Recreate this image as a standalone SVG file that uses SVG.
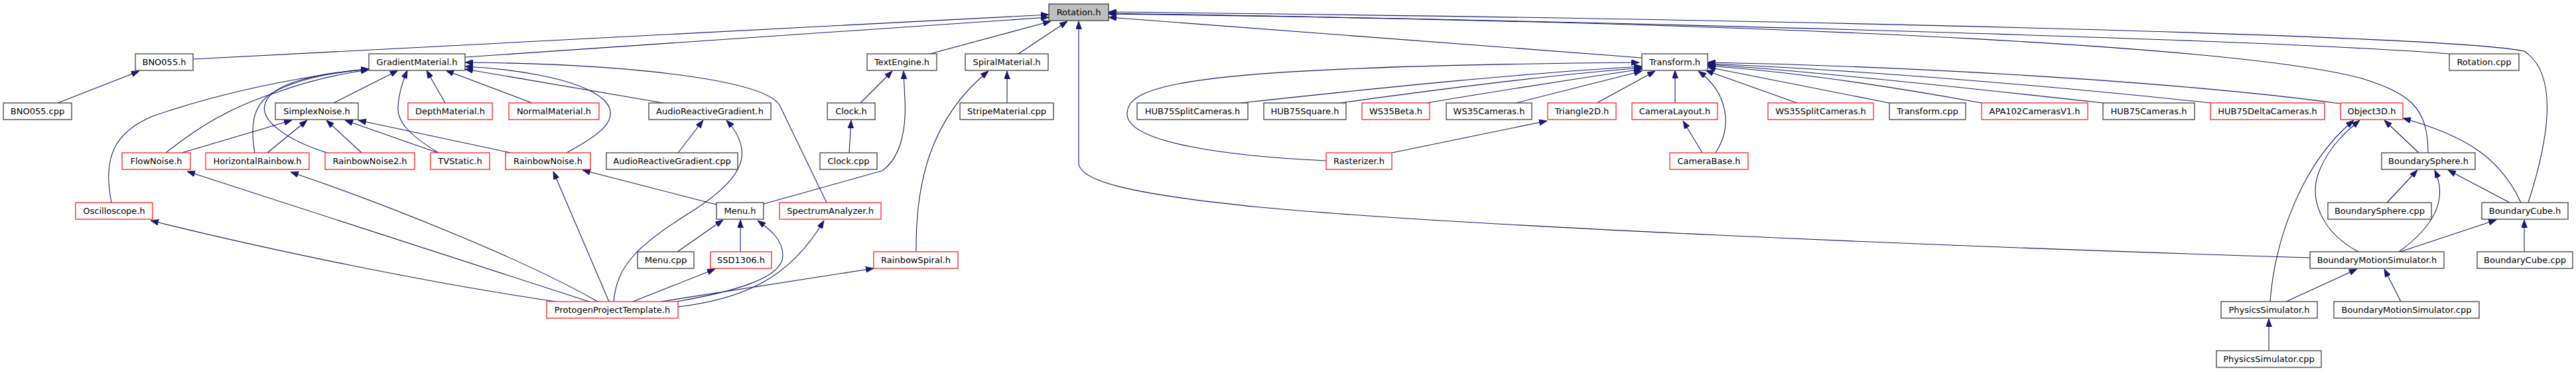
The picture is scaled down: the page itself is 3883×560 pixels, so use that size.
<svg xmlns="http://www.w3.org/2000/svg" width="3883" height="560" viewBox="0 0 3883 560">
<style>
.node rect{fill:#ffffff;stroke:#404040;stroke-width:1.3}
.node.red rect{stroke:#ff2020}
.node.root rect{fill:#bfbfbf}
.node text{font-family:"DejaVu Sans","Liberation Sans",sans-serif;font-size:13px;fill:#000;text-anchor:middle}
#edges path{fill:none;stroke:#191970;stroke-width:1.1;marker-end:url(#arr)}
</style>
<defs>
<marker id="arr" viewBox="0 0 12 9" refX="12" refY="4.5" markerWidth="12" markerHeight="9" markerUnits="userSpaceOnUse" orient="auto">
<path d="M0,0 L12,4.5 L0,9 z" fill="#191970" stroke="#191970" stroke-width="0.8"/>
</marker>
</defs>
<rect width="3883" height="560" fill="#ffffff"/>
<g id="edges">
<path d="M291,89 L1581,22"/>
<path d="M701,86 L1581,26"/>
<path d="M1402,81 L1584,32"/>
<path d="M1535,81 L1609,32"/>
<path d="M3482,388 C2900,370 2200,340 1900,312 C1700,292 1626,272 1626,245 L1626,32"/>
<path d="M2475,87 L1671,26"/>
<path d="M3692,81 C3450,62 2600,35 1671,20"/>
<path d="M3811,305 C3845,200 3855,110 3805,77 C3700,55 2800,30 1671,18"/>
<path d="M3660,230 C3660,160 3630,140 3560,118 C3400,75 2800,35 1671,21"/>
<path d="M1999,242 C1850,235 1700,215 1699,172 C1698,125 1800,100 2471,94"/>
<path d="M1870,155 C2100,130 2300,110 2475,100"/>
<path d="M2020,155 C2200,130 2350,112 2475,102"/>
<path d="M2150,155 C2300,130 2400,115 2475,104"/>
<path d="M2285,155 L2475,107"/>
<path d="M2407,155 L2495,107"/>
<path d="M2525,155 L2525,106"/>
<path d="M2586,230 C2612,190 2605,140 2560,107"/>
<path d="M2098,230 L2332,182"/>
<path d="M2566,230 L2537,182"/>
<path d="M2709,155 L2571,106"/>
<path d="M2848,155 L2574,101"/>
<path d="M2987,155 C2850,130 2700,108 2574,99"/>
<path d="M3170,155 C2900,125 2700,105 2574,97"/>
<path d="M3332,155 C3100,130 2800,105 2574,96"/>
<path d="M3528,156 C3300,125 2900,100 2574,94"/>
<path d="M168,305 C155,240 170,200 230,175 C330,140 450,115 556,104"/>
<path d="M250,230 C300,190 350,160 420,138 C470,120 520,110 556,105"/>
<path d="M384,230 C378,195 378,160 410,140 C450,118 510,108 556,104"/>
<path d="M493,230 C430,210 390,180 400,155 C410,125 480,110 556,104"/>
<path d="M503,155 L600,106"/>
<path d="M661,230 C620,205 598,185 600,160 C601,140 608,120 614,106"/>
<path d="M671,155 L643,106"/>
<path d="M802,155 L672,106"/>
<path d="M1000,155 L701,104"/>
<path d="M854,230 C900,205 940,180 910,150 C870,115 760,103 701,100"/>
<path d="M1246,305 L1175,158 C1150,120 950,96 701,94"/>
<path d="M274,230 L440,181"/>
<path d="M403,230 L463,181"/>
<path d="M545,230 L492,181"/>
<path d="M660,230 L520,181"/>
<path d="M770,230 L540,181"/>
<path d="M1022,230 L1060,181"/>
<path d="M925,454 C930,400 960,370 1040,320 C1120,270 1140,230 1095,181"/>
<path d="M1280,230 L1283,181"/>
<path d="M1297,155 L1345,107"/>
<path d="M1080,308 L878,256"/>
<path d="M1151,307 L1330,257 C1360,235 1366,190 1364,150 L1362,107"/>
<path d="M1518,155 L1518,107"/>
<path d="M1381,379 C1380,280 1400,180 1490,107"/>
<path d="M838,454 C640,425 400,375 227,332"/>
<path d="M888,454 L282,258"/>
<path d="M901,454 C780,385 560,300 438,259"/>
<path d="M918,454 L834,258"/>
<path d="M954,454 L1078,405"/>
<path d="M1020,454 C1100,440 1180,420 1180,385 C1180,360 1160,345 1142,332"/>
<path d="M1022,462 C1120,450 1190,420 1242,332"/>
<path d="M996,454 L1317,404"/>
<path d="M1021,379 L1090,331"/>
<path d="M1116,379 L1116,331"/>
<path d="M3646,230 L3594,181"/>
<path d="M3800,305 C3770,240 3720,205 3622,178"/>
<path d="M3555,379 C3500,350 3480,300 3495,260 C3510,220 3540,195 3557,181"/>
<path d="M3422,454 C3428,370 3465,250 3548,181"/>
<path d="M3598,305 L3644,256"/>
<path d="M3616,379 C3670,340 3690,300 3670,256"/>
<path d="M3783,305 L3690,256"/>
<path d="M3618,379 L3763,331"/>
<path d="M3805,379 L3805,331"/>
<path d="M3446,454 L3553,405"/>
<path d="M3619,454 L3594,405"/>
<path d="M3420,528 L3420,480"/>
<path d="M87,155 L210,107"/>
</g>
<g id="rotation-h" class="node root"><rect x="1581" y="6" width="90" height="25"/><text x="1626" y="22.5">Rotation.h</text></g>
<g id="bno055-h" class="node"><rect x="204" y="81" width="87" height="25"/><text x="247.5" y="97.5">BNO055.h</text></g>
<g id="gradientmaterial-h" class="node"><rect x="556" y="81" width="145" height="25"/><text x="628.5" y="97.5">GradientMaterial.h</text></g>
<g id="textengine-h" class="node"><rect x="1307" y="81" width="105" height="25"/><text x="1359.5" y="97.5">TextEngine.h</text></g>
<g id="spiralmaterial-h" class="node"><rect x="1455" y="81" width="125" height="25"/><text x="1517.5" y="97.5">SpiralMaterial.h</text></g>
<g id="transform-h" class="node"><rect x="2475" y="81" width="99" height="25"/><text x="2524.5" y="97.5">Transform.h</text></g>
<g id="rotation-cpp" class="node"><rect x="3692" y="81" width="105" height="25"/><text x="3744.5" y="97.5">Rotation.cpp</text></g>
<g id="bno055-cpp" class="node"><rect x="5" y="155" width="103" height="25"/><text x="56.5" y="171.5">BNO055.cpp</text></g>
<g id="simplexnoise-h" class="node"><rect x="415" y="155" width="125" height="25"/><text x="477.5" y="171.5">SimplexNoise.h</text></g>
<g id="depthmaterial-h" class="node red"><rect x="615" y="155" width="127" height="25"/><text x="678.5" y="171.5">DepthMaterial.h</text></g>
<g id="normalmaterial-h" class="node red"><rect x="767" y="155" width="136" height="25"/><text x="835" y="171.5">NormalMaterial.h</text></g>
<g id="audioreactivegradient-h" class="node"><rect x="978" y="155" width="184" height="25"/><text x="1070" y="171.5">AudioReactiveGradient.h</text></g>
<g id="clock-h" class="node"><rect x="1247" y="155" width="72" height="25"/><text x="1283" y="171.5">Clock.h</text></g>
<g id="stripematerial-cpp" class="node"><rect x="1447" y="155" width="141" height="25"/><text x="1517.5" y="171.5">StripeMaterial.cpp</text></g>
<g id="hub75splitcameras-h" class="node"><rect x="1714" y="155" width="167" height="25"/><text x="1797.5" y="171.5">HUB75SplitCameras.h</text></g>
<g id="hub75square-h" class="node"><rect x="1905" y="155" width="124" height="25"/><text x="1967" y="171.5">HUB75Square.h</text></g>
<g id="ws35beta-h" class="node red"><rect x="2053" y="155" width="102" height="25"/><text x="2104" y="171.5">WS35Beta.h</text></g>
<g id="ws35cameras-h" class="node"><rect x="2180" y="155" width="129" height="25"/><text x="2244.5" y="171.5">WS35Cameras.h</text></g>
<g id="triangle2d-h" class="node red"><rect x="2333" y="155" width="103" height="25"/><text x="2384.5" y="171.5">Triangle2D.h</text></g>
<g id="cameralayout-h" class="node red"><rect x="2460" y="155" width="129" height="25"/><text x="2524.5" y="171.5">CameraLayout.h</text></g>
<g id="ws35splitcameras-h" class="node red"><rect x="2665" y="155" width="159" height="25"/><text x="2744.5" y="171.5">WS35SplitCameras.h</text></g>
<g id="transform-cpp" class="node"><rect x="2848" y="155" width="115" height="25"/><text x="2905.5" y="171.5">Transform.cpp</text></g>
<g id="apa102camerasv1-h" class="node red"><rect x="2987" y="155" width="160" height="25"/><text x="3067" y="171.5">APA102CamerasV1.h</text></g>
<g id="hub75cameras-h" class="node"><rect x="3170" y="155" width="138" height="25"/><text x="3239" y="171.5">HUB75Cameras.h</text></g>
<g id="hub75deltacameras-h" class="node red"><rect x="3332" y="155" width="172" height="25"/><text x="3418" y="171.5">HUB75DeltaCameras.h</text></g>
<g id="object3d-h" class="node red"><rect x="3528" y="155" width="94" height="25"/><text x="3575" y="171.5">Object3D.h</text></g>
<g id="flownoise-h" class="node red"><rect x="184" y="230" width="103" height="25"/><text x="235.5" y="246.5">FlowNoise.h</text></g>
<g id="horizontalrainbow-h" class="node red"><rect x="310" y="230" width="156" height="25"/><text x="388" y="246.5">HorizontalRainbow.h</text></g>
<g id="rainbownoise2-h" class="node red"><rect x="490" y="230" width="135" height="25"/><text x="557.5" y="246.5">RainbowNoise2.h</text></g>
<g id="tvstatic-h" class="node red"><rect x="649" y="230" width="89" height="25"/><text x="693.5" y="246.5">TVStatic.h</text></g>
<g id="rainbownoise-h" class="node red"><rect x="762" y="230" width="128" height="25"/><text x="826" y="246.5">RainbowNoise.h</text></g>
<g id="audioreactivegradient-cpp" class="node"><rect x="914" y="230" width="198" height="25"/><text x="1013" y="246.5">AudioReactiveGradient.cpp</text></g>
<g id="clock-cpp" class="node"><rect x="1236" y="230" width="86" height="25"/><text x="1279" y="246.5">Clock.cpp</text></g>
<g id="rasterizer-h" class="node red"><rect x="1999" y="230" width="99" height="25"/><text x="2048.5" y="246.5">Rasterizer.h</text></g>
<g id="camerabase-h" class="node red"><rect x="2517" y="230" width="118" height="25"/><text x="2576" y="246.5">CameraBase.h</text></g>
<g id="boundarysphere-h" class="node"><rect x="3590" y="230" width="141" height="25"/><text x="3660.5" y="246.5">BoundarySphere.h</text></g>
<g id="oscilloscope-h" class="node red"><rect x="114" y="305" width="116" height="25"/><text x="172" y="321.5">Oscilloscope.h</text></g>
<g id="menu-h" class="node"><rect x="1080" y="305" width="71" height="25"/><text x="1115.5" y="321.5">Menu.h</text></g>
<g id="spectrumanalyzer-h" class="node red"><rect x="1175" y="305" width="153" height="25"/><text x="1251.5" y="321.5">SpectrumAnalyzer.h</text></g>
<g id="boundarysphere-cpp" class="node"><rect x="3509" y="305" width="156" height="25"/><text x="3587" y="321.5">BoundarySphere.cpp</text></g>
<g id="boundarycube-h" class="node"><rect x="3741" y="305" width="130" height="25"/><text x="3806" y="321.5">BoundaryCube.h</text></g>
<g id="menu-cpp" class="node"><rect x="961" y="379" width="85" height="25"/><text x="1003.5" y="395.5">Menu.cpp</text></g>
<g id="ssd1306-h" class="node red"><rect x="1071" y="379" width="92" height="25"/><text x="1117" y="395.5">SSD1306.h</text></g>
<g id="rainbowspiral-h" class="node red"><rect x="1317" y="379" width="127" height="25"/><text x="1380.5" y="395.5">RainbowSpiral.h</text></g>
<g id="boundarymotionsimulator-h" class="node"><rect x="3482" y="379" width="202" height="25"/><text x="3583" y="395.5">BoundaryMotionSimulator.h</text></g>
<g id="boundarycube-cpp" class="node"><rect x="3734" y="379" width="144" height="25"/><text x="3806" y="395.5">BoundaryCube.cpp</text></g>
<g id="protogenprojecttemplate-h" class="node red"><rect x="824" y="454" width="198" height="25"/><text x="923" y="470.5">ProtogenProjectTemplate.h</text></g>
<g id="physicssimulator-h" class="node"><rect x="3348" y="454" width="145" height="25"/><text x="3420.5" y="470.5">PhysicsSimulator.h</text></g>
<g id="boundarymotionsimulator-cpp" class="node"><rect x="3518" y="454" width="219" height="25"/><text x="3627.5" y="470.5">BoundaryMotionSimulator.cpp</text></g>
<g id="physicssimulator-cpp" class="node"><rect x="3341" y="528" width="158" height="25"/><text x="3420" y="544.5">PhysicsSimulator.cpp</text></g>
</svg>
